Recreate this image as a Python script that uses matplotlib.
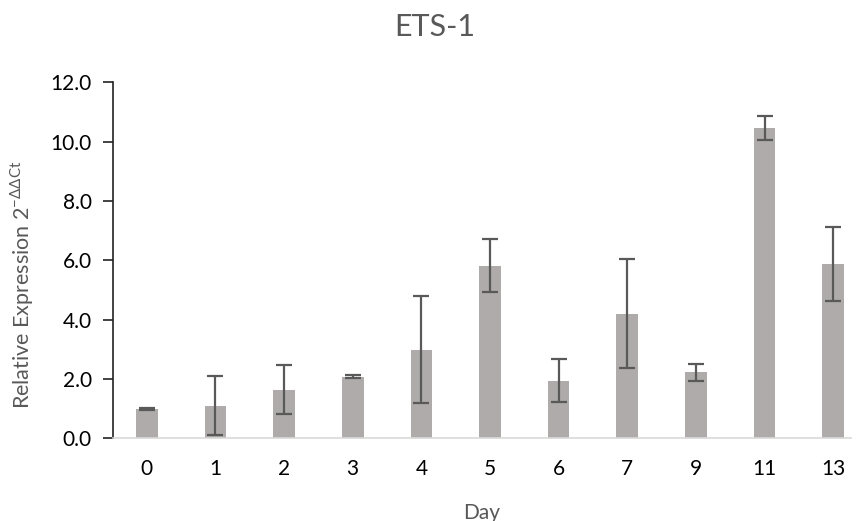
import matplotlib
matplotlib.use("Agg")
import matplotlib.pyplot as plt
import numpy as np

days = ["0", "1", "2", "3", "4", "5", "6", "7", "9", "11", "13"]
expression = [0.99, 1.10, 1.64, 2.08, 2.98, 5.82, 1.94, 4.20, 2.22, 10.47, 5.88]
errors = [0.02, 1.00, 0.83, 0.05, 1.80, 0.90, 0.72, 1.84, 0.28, 0.40, 1.25]
yticks = [0, 2, 4, 6, 8, 10, 12]

plt.rcParams['font.family'] = ['Lato', 'DejaVu Sans']

W, H = 856, 521
fig = plt.figure(figsize=(W / 100, H / 100), dpi=100)
left, right, bottom, top = 112.5, 851, 438.3, 82.3
ax = fig.add_axes([left / W, 1 - bottom / H, (right - left) / W, (bottom - top) / H])

x = np.arange(len(days))
ax.bar(x, expression, width=0.316, color='#AFABAB', edgecolor='none', zorder=2)
ax.errorbar(x, expression, yerr=errors, fmt='none', ecolor='#595959',
            elinewidth=1.6, capsize=5.5, capthick=1.6, zorder=3)

ax.set_xlim(-0.5, 10.26)
ax.set_ylim(0, 12)
ax.set_yticks(yticks)
ax.set_yticklabels([f"{v:.1f}" for v in yticks])
ax.set_xticks(x)
ax.set_xticklabels(days)

for s in ['top', 'right']:
    ax.spines[s].set_visible(False)
ax.spines['left'].set_color('#222222')
ax.spines['left'].set_linewidth(1.2)
ax.spines['bottom'].set_color('#D9D9D9')
ax.spines['bottom'].set_linewidth(1.2)

ax.tick_params(axis='y', direction='out', length=7, width=1.2, color='#222222',
               labelsize=15, labelcolor='#000000', pad=8)
ax.tick_params(axis='x', length=0, labelsize=15, labelcolor='#000000', pad=15)

ax.set_xlabel('Day', fontsize=15, color='#595959', labelpad=17)
fig.text(22 / W, 1 - 285 / H, r'Relative Expression 2$^{\mathregular{-ΔΔCt}}$',
         rotation=90, ha='center', va='center', fontsize=15.5, color='#595959')
fig.text(434.5 / W, 1 - 27 / H, 'ETS-1', ha='center', va='center',
         fontsize=22, color='#595959')

fig.savefig('out.png', dpi=100)
